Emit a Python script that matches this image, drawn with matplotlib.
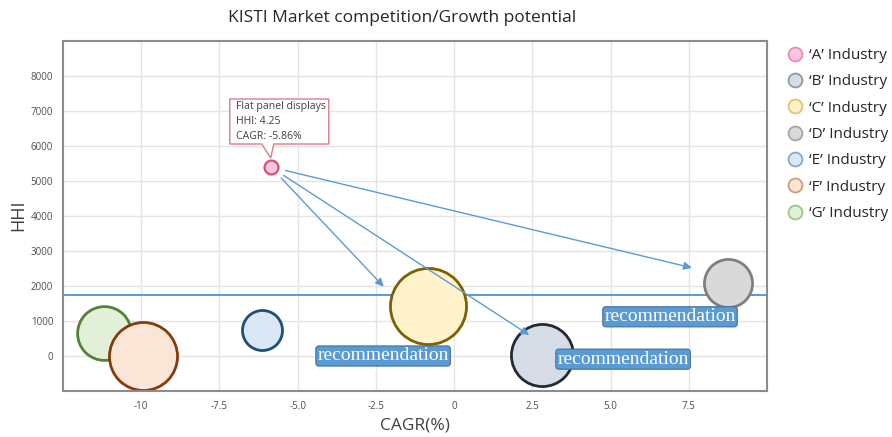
import matplotlib.pyplot as plt
import matplotlib.transforms as mtransforms
from matplotlib.lines import Line2D
from matplotlib.patches import Polygon

plt.rcParams['font.family'] = ['Open Sans', 'DejaVu Sans']

# industries: CAGR (%), HHI, bubble area (pt^2)
industries = ['A', 'B', 'C', 'D', 'E', 'F', 'G']
cagr = [-5.86, 2.8, -0.83, 8.75, -6.15, -9.95, -11.2]
hhi = [5400, 30, 1420, 2080, 740, 0, 650]
bubble = [100, 2000, 3000, 1200, 830, 2400, 1500]

face = ['#f4c6e4', '#d6dce5', '#fff2cc', '#d9d9d9', '#dae7f5', '#fbe5d6', '#e2f0d9']
edge = ['#dc4f6e', '#222a35', '#7f6000', '#7f7f7f', '#1f4e79', '#843c0c', '#548235']
legend_edge = ['#ee8fa8', '#8e98a8', '#e2c46e', '#a6a6a6', '#86a9d2', '#d89874', '#9cc888']

threshold = 1740

# recommendation arrows from 'A' and their labels
arrow_x = [-2.25, 2.4, 7.6]
arrow_y = [1980, 600, 2520]
rec_x = [-2.27, 5.4, 6.9]
rec_y = [0, -90, 1120]

tip_title = 'Flat panel displays'
tip_hhi = '4.25'
tip_cagr = '-5.86%'

xticks = [-10, -7.5, -5.0, -2.5, 0, 2.5, 5.0, 7.5]
xtick_labels = ['-10', '-7.5', '-5.0', '-2.5', '0', '2.5', '5.0', '7.5']
yticks = [0, 1000, 2000, 3000, 4000, 5000, 6000, 7000, 8000]

fig = plt.figure(figsize=(8.92, 4.37), dpi=100)
ax = fig.add_axes([63 / 892, 1 - 391 / 437, 704 / 892, 350 / 437])

ax.set_xlim(-12.5, 10)
ax.set_ylim(-1000, 9000)
ax.set_xticks(xticks)
ax.set_xticklabels(xtick_labels)
ax.set_yticks(yticks)
ax.tick_params(length=0, labelsize=7, labelcolor='#4d4d4d', pad=7)
ax.grid(color='#e4e4e4', lw=1, zorder=0)
ax.set_axisbelow(True)
for s in ax.spines.values():
    s.set_color('#8c8c8c')
    s.set_linewidth(1.5)

ax.axhline(threshold, color='#5b9bd5', lw=1.4, zorder=1)

# bubbles, drawn in reverse so 'F' sits on top of 'G'
for i in reversed(range(len(industries))):
    ax.scatter(cagr[i], hhi[i], s=bubble[i], c=face[i], edgecolors=edge[i],
               linewidths=2.0 if i else 1.6, zorder=2)

for tx, ty in zip(arrow_x, arrow_y):
    ax.annotate('', xy=(tx, ty), xytext=(cagr[0], hhi[0]),
                arrowprops=dict(arrowstyle='-|>', color='#5b9bd5', lw=1,
                                mutation_scale=12, shrinkA=11, shrinkB=0),
                zorder=3)

for rx, ry in zip(rec_x, rec_y):
    ax.text(rx, ry, 'recommendation', family='Liberation Serif', fontsize=14,
            color='white', ha='center', va='center', zorder=4,
            bbox=dict(boxstyle='round,pad=0.08,rounding_size=0.15',
                      fc='#5b9bd5', ec='#41719c', lw=0.8))

# tooltip callout above 'A' (offsets in inches)
anchor = fig.dpi_scale_trans + mtransforms.ScaledTranslation(cagr[0], hhi[0], ax.transData)
callout = [(-0.41, 0.23), (-0.09, 0.23), (0.0, 0.09), (0.03, 0.23),
           (0.58, 0.23), (0.58, 0.68), (-0.41, 0.68)]
ax.add_patch(Polygon(callout, closed=True, transform=anchor, fc='white',
                     ec='#e07a8c', lw=1, zorder=5, clip_on=False))
ax.text(-0.35, 0.455, f'{tip_title}\nHHI: {tip_hhi}\nCAGR: {tip_cagr}',
        transform=anchor, fontsize=7.6, color='#404040', ha='left', va='center',
        linespacing=1.45, zorder=6)

fig.text(415 / 892, 1 - 425 / 437, 'CAGR(%)', fontsize=12.5, color='#404040',
         ha='center', va='center')
fig.text(18 / 892, 1 - 215 / 437, 'HHI', fontsize=13, color='#404040',
         ha='center', va='center', rotation=90)
fig.text(402 / 892, 1 - 18 / 437, 'KISTI Market competition/Growth potential',
         fontsize=12.5, color='#262626', ha='center', va='center')

handles = [Line2D([], [], ls='', marker='o', markersize=10, markerfacecolor=f,
                  markeredgecolor=e, markeredgewidth=1.3)
           for f, e in zip(face, legend_edge)]
labels = [f'\u2018{n}\u2019 Industry' for n in industries]
fig.legend(handles, labels, loc='upper left', bbox_to_anchor=(780 / 892, 1 - 42 / 437),
           frameon=False, fontsize=11, labelspacing=0.74, handletextpad=0.3,
           handlelength=1.2, borderaxespad=0, labelcolor='#262626')

fig.savefig('out.png', dpi=100)
